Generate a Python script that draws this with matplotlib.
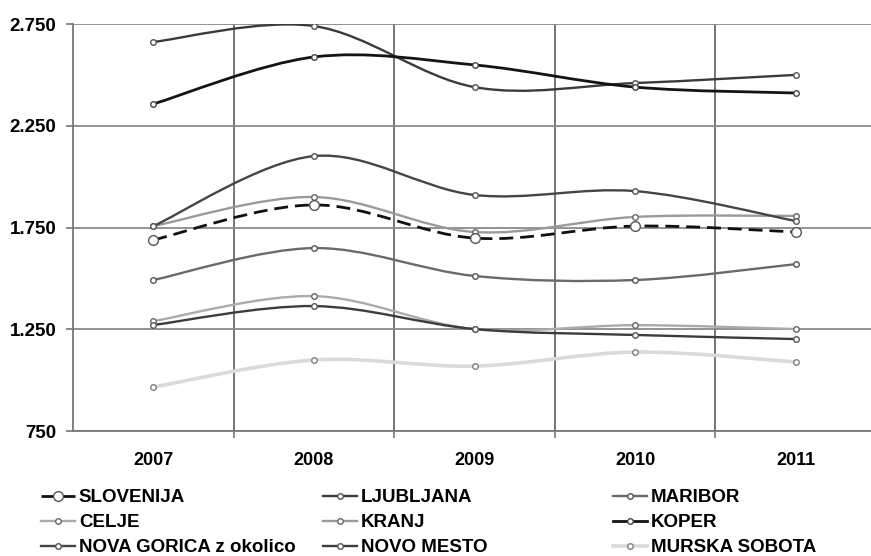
import numpy as np
import matplotlib
matplotlib.use("Agg")
import matplotlib.pyplot as plt
from matplotlib.path import Path
from matplotlib.patches import PathPatch
from matplotlib.lines import Line2D

plt.rcParams['font.family'] = ['Liberation Sans', 'DejaVu Sans']
plt.rcParams['font.weight'] = 'bold'

years = ['2007', '2008', '2009', '2010', '2011']

slovenija = [1689, 1861, 1698, 1757, 1728]
ljubljana = [2662, 2740, 2440, 2460, 2500]
maribor = [1492, 1649, 1512, 1492, 1570]
celje = [1290, 1413, 1251, 1270, 1251]
kranj = [1757, 1900, 1728, 1802, 1807]
koper = [2357, 2588, 2549, 2440, 2411]
nova_gorica = [1757, 2101, 1910, 1929, 1782]
novo_mesto = [1271, 1364, 1251, 1222, 1202]
murska_sobota = [966, 1099, 1069, 1138, 1089]

y_ticks = [750, 1250, 1750, 2250, 2750]
y_labels = ['750', '1.250', '1.750', '2.250', '2.750']

# name, values, line colour, line width, dashes, marker size, marker edge
series = [
    ('SLOVENIJA', slovenija, '#111111', 2.0, (5, 2.5), 7, '#555555'),
    ('LJUBLJANA', ljubljana, '#3a3a3a', 1.7, None, 4, '#555555'),
    ('MARIBOR', maribor, '#6a6a6a', 1.7, None, 4, '#555555'),
    ('CELJE', celje, '#ababab', 1.7, None, 4, '#666666'),
    ('KRANJ', kranj, '#9a9a9a', 1.7, None, 4, '#666666'),
    ('KOPER', koper, '#141414', 2.0, None, 4, '#444444'),
    ('NOVA GORICA z okolico', nova_gorica, '#454545', 1.7, None, 4, '#555555'),
    ('NOVO MESTO', novo_mesto, '#3c3c3c', 1.7, None, 4, '#555555'),
    ('MURSKA SOBOTA', murska_sobota, '#dadada', 2.6, None, 4, '#808080'),
]


def smooth_path(xs, ys):
    # cubic bezier through the points, spreadsheet style smoothing
    pts = np.column_stack([xs, ys]).astype(float)
    n = len(pts)
    verts = [pts[0]]
    codes = [Path.MOVETO]
    for i in range(n - 1):
        p0 = pts[max(i - 1, 0)]
        p1 = pts[i]
        p2 = pts[i + 1]
        p3 = pts[min(i + 2, n - 1)]
        verts += [p1 + (p2 - p0) / 6.0, p2 - (p3 - p1) / 6.0, p2]
        codes += [Path.CURVE4] * 3
    return Path(verts, codes)


fig = plt.figure(figsize=(8.71, 5.56), dpi=100)
ax = fig.add_axes([0.0838, 0.2248, 0.922, 0.7320])

x = np.arange(len(years))
handles = {}
for k, (name, vals, col, lw, dash, ms, mec) in enumerate(series):
    z = 5 if name == 'SLOVENIJA' else 3
    patch = PathPatch(smooth_path(x, vals), facecolor='none', edgecolor=col,
                      lw=lw, zorder=z, capstyle='butt', joinstyle='round')
    if dash:
        patch.set_linestyle((0, dash))
    ax.add_patch(patch)
    ax.plot(x, vals, ls='none', marker='o', ms=ms, mfc='white', mec=mec,
            mew=1.0, zorder=z + 1)
    handles[name] = Line2D([], [], color=col, lw=lw,
                           ls=(0, dash) if dash else '-', marker='o',
                           ms=ms, mfc='white', mec=mec, mew=1.0)

ax.set_xlim(-0.5, 4.5)
ax.set_ylim(750, 2750)
ax.set_xticks(x)
ax.set_xticklabels(years, fontsize=13, fontweight='bold')
ax.set_xticks(np.arange(0.5, 4.0, 1.0), minor=True)
ax.tick_params(axis='x', which='major', length=0, pad=15)
ax.tick_params(axis='x', which='minor', length=5, width=1.2, color='#777777')
ax.set_yticks(y_ticks)
ax.set_yticklabels(y_labels, fontsize=13.5, fontweight='bold')
ax.tick_params(axis='y', length=5, width=1.2, color='#777777', pad=7)

ax.grid(axis='y', which='major', color='#8a8a8a', lw=1.3)
ax.grid(axis='x', which='minor', color='#6a6a6a', lw=1.3)
ax.set_axisbelow(True)
for side in ('top', 'right'):
    ax.spines[side].set_visible(False)
for side in ('left', 'bottom'):
    ax.spines[side].set_color('#777777')
    ax.spines[side].set_linewidth(1.3)

columns = [
    (['SLOVENIJA', 'CELJE', 'NOVA GORICA z okolico'], 41),
    (['LJUBLJANA', 'KRANJ', 'NOVO MESTO'], 323),
    (['MARIBOR', 'KOPER', 'MURSKA SOBOTA'], 613),
]
for names, px in columns:
    fig.legend([handles[n] for n in names], names, loc='upper left',
               bbox_to_anchor=(px / 871, 1 - 489 / 556), frameon=False,
               borderpad=0, borderaxespad=0, handlelength=1.8,
               handletextpad=0.22, labelspacing=0.43,
               prop={'size': 13.5, 'weight': 'bold'})

fig.savefig('out.png', dpi=100)
